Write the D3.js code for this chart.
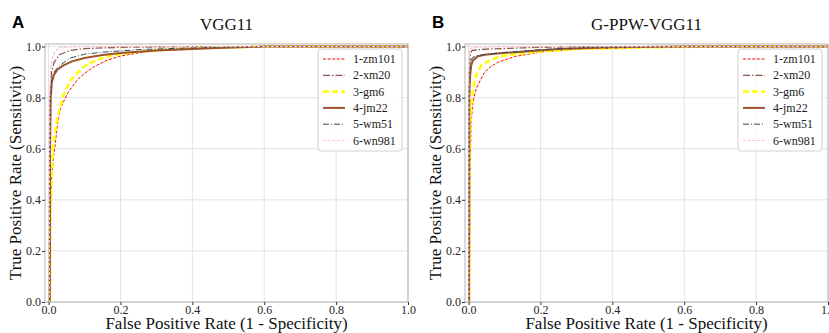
<!DOCTYPE html>
<html>
<head>
<meta charset="utf-8">
<script src="https://cdn.jsdelivr.net/npm/d3@7"></script>
<style>
  body { margin: 0; background: #fff; }
  svg { display: block; }
</style>
</head>
<body>
<div id="chart"></div>
<script>
// ROC curves, two panels (VGG11 vs G-PPW-VGG11)
const seriesNames = ["1-zm101", "2-xm20", "3-gm6", "4-jm22", "5-wm51", "6-wn981"];
const ticks = [0, 0.2, 0.4, 0.6, 0.8, 1.0];

// panel A: VGG11  [fpr, tpr]
const vggZm101 = [[0,0],[0.004,0],[0.005,0.3],[0.006,0.4],[0.009,0.5],[0.013,0.56],[0.017,0.6],[0.025,0.7],[0.035,0.765],[0.054,0.82],[0.08,0.87],[0.1,0.895],[0.128,0.922],[0.16,0.945],[0.2,0.963],[0.25,0.975],[0.3,0.984],[0.4,0.992],[0.5,0.997],[0.6,1],[1,1]];
const vggXm20 = [[0,0],[0.003,0],[0.004,0.8],[0.008,0.9],[0.015,0.937],[0.03,0.968],[0.06,0.985],[0.1,0.992],[0.2,0.997],[0.4,1],[1,1]];
const vggGm6 = [[0,0],[0.004,0],[0.005,0.3],[0.007,0.4],[0.009,0.5],[0.012,0.6],[0.017,0.66],[0.023,0.71],[0.04,0.807],[0.063,0.872],[0.1,0.924],[0.14,0.95],[0.174,0.965],[0.25,0.98],[0.35,0.99],[0.5,0.997],[0.6,1],[1,1]];
const vggJm22 = [[0,0],[0.003,0],[0.004,0.6],[0.006,0.8],[0.009,0.86],[0.015,0.89],[0.025,0.91],[0.04,0.925],[0.065,0.942],[0.1,0.955],[0.15,0.967],[0.2,0.975],[0.3,0.985],[0.45,0.993],[0.6,1],[1,1]];
const vggWm51 = [[0,0],[0.003,0],[0.004,0.7],[0.006,0.85],[0.012,0.89],[0.02,0.91],[0.035,0.93],[0.06,0.955],[0.1,0.97],[0.15,0.978],[0.25,0.988],[0.4,0.995],[0.6,1],[1,1]];
const vggWn981 = [[0,0],[0.002,0],[0.003,0.8],[0.006,0.92],[0.012,0.964],[0.02,0.985],[0.03,0.995],[0.05,0.998],[0.1,1],[1,1]];

// panel B: G-PPW-VGG11
const ppwZm101 = [[0,0],[0.003,0],[0.004,0.5],[0.007,0.7],[0.012,0.78],[0.02,0.83],[0.026,0.85],[0.044,0.898],[0.06,0.92],[0.081,0.938],[0.128,0.961],[0.2,0.978],[0.3,0.99],[0.5,0.997],[0.7,1],[1,1]];
const ppwXm20 = [[0,0],[0.001,0],[0.002,0.9],[0.005,0.975],[0.01,0.985],[0.05,0.99],[0.15,0.995],[0.3,1],[1,1]];
const ppwGm6 = [[0,0],[0.002,0],[0.003,0.5],[0.005,0.7],[0.008,0.78],[0.012,0.83],[0.02,0.885],[0.035,0.925],[0.063,0.95],[0.1,0.965],[0.2,0.98],[0.3,0.99],[0.5,0.997],[0.7,1],[1,1]];
const ppwJm22 = [[0,0],[0.001,0],[0.002,0.8],[0.004,0.88],[0.007,0.925],[0.012,0.945],[0.026,0.962],[0.045,0.968],[0.08,0.973],[0.15,0.98],[0.25,0.99],[0.4,0.997],[0.6,1],[1,1]];
const ppwWm51 = [[0,0],[0.001,0],[0.002,0.85],[0.005,0.93],[0.01,0.955],[0.02,0.963],[0.05,0.97],[0.1,0.977],[0.2,0.988],[0.3,0.995],[0.5,1],[1,1]];
const ppwWn981 = [[0,0],[0.0005,0],[0.001,0.9],[0.003,0.985],[0.008,0.995],[0.03,0.998],[0.1,1],[1,1]];

const styles = [
    { color: "#ff0000", width: 1, dash: "3,1.6" },
    { color: "#8c564b", width: 1.3, dash: "7,2,1.5,2" },
    { color: "#ffff00", width: 2.5, dash: "6,3" },
    { color: "#a0522d", width: 2, dash: null },
    { color: "#2f4f4f", width: 1, dash: "6,2,1,2" },
    { color: "#ffc0cb", width: 1.2, dash: "3,1.6" }
];

const panels = [
    { letter: "A", title: "VGG11", offset: 0, data: [vggZm101, vggXm20, vggGm6, vggJm22, vggWm51, vggWn981] },
    { letter: "B", title: "G-PPW-VGG11", offset: 420, data: [ppwZm101, ppwXm20, ppwGm6, ppwJm22, ppwWm51, ppwWn981] }
];

const width = 829, height = 333;
const serif = "'Liberation Serif', 'Times New Roman', serif";
const gridColor = "#dcdcdc", frameColor = "#b5b5b5", tickColor = "#333";

const svg = d3.select("#chart").append("svg")
    .attr("width", width)
    .attr("height", height);

panels.forEach((p, pi) => {
    const left = 45 + p.offset, right = 408 + p.offset;
    const top = 44, bottom = 302;

    const x = d3.scaleLinear().domain([-0.01, 1.0]).range([left, right]);
    const y = d3.scaleLinear().domain([0, 1.01]).range([bottom, top]);

    const g = svg.append("g");

    g.append("clipPath").attr("id", "clip" + pi)
        .append("rect")
        .attr("x", left).attr("y", top)
        .attr("width", right - left).attr("height", bottom - top);

    // grid
    g.append("g").selectAll("line").data(ticks).join("line")
        .attr("x1", d => x(d)).attr("x2", d => x(d))
        .attr("y1", top).attr("y2", bottom)
        .attr("stroke", gridColor).attr("stroke-width", 0.8);
    g.append("g").selectAll("line").data(ticks).join("line")
        .attr("x1", left).attr("x2", right)
        .attr("y1", d => y(d)).attr("y2", d => y(d))
        .attr("stroke", gridColor).attr("stroke-width", 0.8);

    // curves
    const line = d3.line().x(d => x(d[0])).y(d => y(d[1]));
    const curves = g.append("g").attr("clip-path", `url(#clip${pi})`);
    p.data.forEach((pts, i) => {
        const s = styles[i];
        curves.append("path")
            .datum(pts)
            .attr("d", line)
            .attr("fill", "none")
            .attr("stroke", s.color)
            .attr("stroke-width", s.width)
            .attr("stroke-dasharray", s.dash);
    });

    // frame
    g.append("rect")
        .attr("x", left).attr("y", top)
        .attr("width", right - left).attr("height", bottom - top)
        .attr("fill", "none")
        .attr("stroke", frameColor)
        .attr("stroke-width", 1);

    // axes
    const xAxis = g.append("g")
        .attr("transform", `translate(0,${bottom})`)
        .call(d3.axisBottom(x).tickValues(ticks).tickFormat(d3.format(".1f")).tickSize(3).tickPadding(0));
    const yAxis = g.append("g")
        .attr("transform", `translate(${left},0)`)
        .call(d3.axisLeft(y).tickValues(ticks).tickFormat(d3.format(".1f")).tickSize(3).tickPadding(1));
    [xAxis, yAxis].forEach(a => {
        a.select(".domain").remove();
        a.selectAll("line").attr("stroke", tickColor);
        a.selectAll("text")
            .attr("font-family", serif)
            .attr("font-size", "12px")
            .attr("fill", "#262626");
    });

    // titles
    svg.append("text")
        .attr("x", (left + right) / 2)
        .attr("y", 30)
        .attr("text-anchor", "middle")
        .attr("font-family", serif)
        .attr("font-size", "17px")
        .attr("fill", "#111")
        .text(p.title);

    svg.append("text")
        .attr("x", 12 + p.offset)
        .attr("y", 28)
        .attr("font-family", "'Liberation Sans', Arial, sans-serif")
        .attr("font-weight", "bold")
        .attr("font-size", "17px")
        .attr("fill", "#000")
        .text(p.letter);

    svg.append("text")
        .attr("x", (left + right) / 2)
        .attr("y", 329)
        .attr("text-anchor", "middle")
        .attr("font-family", serif)
        .attr("font-size", "17px")
        .attr("fill", "#111")
        .text("False Positive Rate (1 - Specificity)");

    svg.append("text")
        .attr("transform", `translate(${21 + p.offset},${(top + bottom) / 2}) rotate(-90)`)
        .attr("text-anchor", "middle")
        .attr("font-family", serif)
        .attr("font-size", "17px")
        .attr("fill", "#111")
        .text("True Positive Rate (Sensitivity)");

    // legend
    const legend = g.append("g").attr("transform", `translate(${right - 90},49)`);
    legend.append("rect")
        .attr("width", 84).attr("height", 102)
        .attr("rx", 3)
        .attr("fill", "#fff").attr("fill-opacity", 0.8)
        .attr("stroke", "#d0d0d0");
    seriesNames.forEach((name, i) => {
        const s = styles[i];
        const yy = 10 + i * 16.3;
        legend.append("line")
            .attr("x1", 5).attr("x2", 27)
            .attr("y1", yy).attr("y2", yy)
            .attr("stroke", s.color)
            .attr("stroke-width", s.width)
            .attr("stroke-dasharray", s.dash);
        legend.append("text")
            .attr("x", 35).attr("y", yy + 4)
            .attr("font-family", serif)
            .attr("font-size", "12px")
            .attr("fill", "#222")
            .text(name);
    });
});
</script>
</body>
</html>
